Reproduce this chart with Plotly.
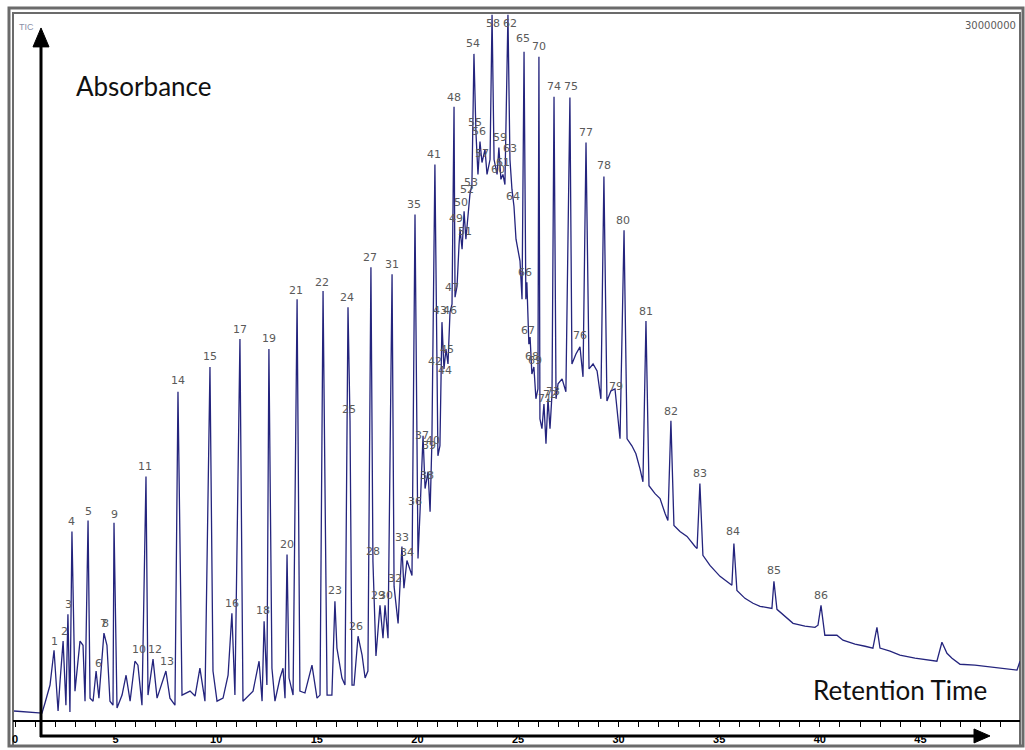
import plotly.graph_objects as go

# ---- TIC trace vertices (time in min, signal in 1e6 counts)
rt_min = [-0.05, 1.34, 1.49, 1.74, 1.94, 2.09, 2.14, 2.24, 2.39, 2.53, 2.63, 2.73, 2.83, 2.98, 3.23, 3.38,
          3.48, 3.63, 3.73, 3.88, 4.03, 4.17, 4.42, 4.57, 4.72, 4.87, 4.92, 5.07, 5.32, 5.52, 5.72, 5.96,
          6.11, 6.31, 6.51, 6.61, 6.86, 7.06, 7.50, 7.70, 7.95, 8.10, 8.30, 8.70, 8.95, 9.19, 9.44, 9.69,
          9.84, 10.04, 10.34, 10.59, 10.78, 10.93, 11.18, 11.33, 11.83, 12.13, 12.28, 12.38, 12.52, 12.62,
          12.77, 12.92, 13.17, 13.32, 13.42, 13.52, 13.62, 13.82, 14.02, 14.16, 14.41, 14.76, 15.01, 15.16,
          15.31, 15.51, 15.75, 15.90, 16.00, 16.25, 16.40, 16.55, 16.65, 16.75, 16.85, 17.05, 17.25, 17.40,
          17.54, 17.69, 17.79, 17.94, 18.14, 18.29, 18.39, 18.54, 18.74, 18.84, 19.04, 19.23, 19.33, 19.48,
          19.73, 19.88, 20.03, 20.13, 20.28, 20.38, 20.53, 20.63, 20.72, 20.87, 21.02, 21.12, 21.22, 21.32,
          21.42, 21.52, 21.62, 21.72, 21.82, 21.87, 21.97, 22.07, 22.12, 22.22, 22.32, 22.41, 22.51, 22.61,
          22.71, 22.81, 22.91, 23.01, 23.11, 23.21, 23.36, 23.46, 23.61, 23.71, 23.81, 23.96, 24.05, 24.15,
          24.25, 24.35, 24.50, 24.60, 24.70, 24.80, 24.90, 25.00, 25.10, 25.20, 25.30, 25.39, 25.44, 25.54,
          25.60, 25.69, 25.79, 25.89, 25.99, 26.04, 26.09, 26.19, 26.29, 26.39, 26.49, 26.59, 26.69, 26.79,
          26.89, 26.99, 27.19, 27.38, 27.58, 27.68, 27.88, 28.08, 28.23, 28.38, 28.53, 28.73, 28.93, 29.12,
          29.27, 29.42, 29.62, 29.82, 29.97, 30.07, 30.27, 30.42, 30.66, 30.86, 31.06, 31.21, 31.36, 31.51,
          31.81, 32.06, 32.31, 32.45, 32.60, 32.75, 33.05, 33.40, 33.80, 33.90, 34.04, 34.19, 34.54, 35.04,
          35.63, 35.73, 35.88, 36.28, 36.68, 37.03, 37.62, 37.72, 37.87, 38.27, 38.67, 39.26, 39.76, 39.91,
          40.06, 40.25, 40.85, 41.15, 41.75, 42.25, 42.64, 42.84, 42.99, 43.49, 43.98, 44.73, 45.48, 45.82,
          46.07, 46.32, 46.57, 46.97, 47.71, 48.61, 49.45, 49.80, 49.95]

tic_mcounts = [0.13, 0.04, 0.47, 1.24, 2.73, 0.98, 0.13, 1.41, 3.12, 0.38, 4.27, 0.09, 7.81, 0.98, 3.12, 2.94,
               0.55, 8.28, 0.68, 0.55, 1.84, 0.68, 3.46, 2.94, 0.55, 0.38, 8.19, 0.26, 0.81, 1.66, 0.55, 2.26,
               2.09, 0.38, 10.16, 0.81, 2.35, 0.68, 1.84, 0.68, 0.38, 13.79, 0.81, 0.98, 0.77, 1.96, 0.55, 14.85,
               1.84, 0.55, 0.68, 1.66, 4.31, 0.81, 16.05, 0.55, 0.98, 2.26, 0.55, 3.97, 1.24, 15.62,
               1.96, 0.55, 1.54, 1.96, 0.68, 6.83, 1.54, 0.81, 17.75, 0.98, 0.90, 2.09, 0.68, 0.81,
               18.10, 0.81, 0.81, 4.82, 2.82, 1.54, 1.24, 17.41, 12.55, 1.24, 1.24, 3.33, 2.52, 1.54,
               1.84, 19.12, 6.53, 2.48, 4.65, 3.24, 4.65, 3.24, 18.82, 5.46, 3.88, 7.17, 5.38, 6.57,
               5.93, 21.38, 6.66, 8.66, 11.91, 9.65, 10.37, 8.66, 11.65, 23.52, 11.05, 11.48, 16.77, 14.77,
               15.62, 14.98, 17.20, 17.54, 25.99, 17.84, 18.31, 20.10, 20.74, 19.89, 21.51, 20.32, 21.38, 22.24,
               22.66, 28.25, 24.88, 23.09, 24.50, 23.60, 24.16, 23.09, 23.73, 29.92, 23.73, 23.09, 24.24, 22.88,
               23.09, 22.66, 29.92, 23.73, 22.45, 21.72, 20.32, 19.89, 19.38, 17.75, 28.34, 17.75, 18.48, 15.83,
               16.13, 14.55, 14.85, 13.49, 13.91, 28.13, 12.63, 12.21, 13.27, 11.57, 13.49, 12.21, 13.70, 26.42,
               13.49, 14.13, 14.34, 13.79, 26.38, 14.98, 15.41, 15.71, 14.43, 24.46, 14.77, 14.98, 14.68, 13.49,
               23.00, 13.40, 13.83, 13.91, 12.63, 11.78, 20.70, 11.78, 11.48, 11.14, 10.50, 9.94, 16.82, 9.77,
               9.43, 9.22, 8.58, 8.28, 12.55, 8.07, 7.81, 7.60, 7.17, 7.08, 9.86, 6.79, 6.36, 5.89,
               5.51, 7.30, 5.29, 4.95, 4.74, 4.61, 4.52, 5.68, 4.48, 4.18, 3.88, 3.76, 3.71, 3.80,
               4.65, 3.37, 3.37, 3.16, 2.99, 2.90, 2.82, 3.71, 2.82, 2.69, 2.52, 2.39, 2.30, 2.26,
               3.07, 2.60, 2.39, 2.13, 2.09, 2.01, 1.92, 1.88, 2.26]

# ---- peak number labels (position of label text)
peak_ids = ["1", "2", "3", "4", "5", "6", "7", "8", "9", "10", "11", "12", "13", "14", "15", "16", "17",
            "18", "19", "20", "21", "22", "23", "24", "25", "26", "27", "28", "29", "30", "31", "32", "33",
            "34", "35", "36", "37", "38", "39", "40", "41", "42", "43", "44", "45", "46", "47", "48", "49",
            "50", "51", "52", "53", "54", "55", "56", "57", "58", "59", "60", "61", "62", "63", "64", "65",
            "66", "67", "68", "69", "70", "71", "72", "73", "74", "75", "76", "77", "78", "79", "80", "81",
            "82", "83", "84", "85", "86"]
label_rt = [1.94, 2.44, 2.68, 2.83, 3.63, 4.13, 4.42, 4.52, 4.92, 6.16, 6.46, 6.96, 7.55, 8.10, 9.69, 10.78,
            11.18, 12.33, 12.62, 13.52, 13.97, 15.26, 15.90, 16.50, 16.60, 16.95, 17.64, 17.79, 18.04, 18.44,
            18.74, 18.89, 19.23, 19.48, 19.83, 19.88, 20.23, 20.48, 20.58, 20.77, 20.82, 20.87, 21.12, 21.37,
            21.47, 21.62, 21.72, 21.82, 21.92, 22.17, 22.37, 22.46, 22.66, 22.76, 22.86, 23.06, 23.21, 23.76,
            24.10, 24.00, 24.25, 24.60, 24.60, 24.75, 25.25, 25.35, 25.50, 25.69, 25.84, 26.04, 26.34, 26.59,
            26.74, 26.79, 27.63, 28.08, 28.38, 29.27, 29.87, 30.22, 31.36, 32.60, 34.04, 35.68, 37.72, 40.06]
label_mcounts = [3.12, 3.54, 4.69, 8.24, 8.66, 2.18, 3.88, 3.88, 8.54, 2.77, 10.58, 2.77, 2.26, 14.26, 15.28,
                 4.74, 16.47, 4.44, 16.05, 7.26, 18.14, 18.48, 5.29, 17.84, 13.02, 3.76, 19.55, 6.96, 5.08,
                 5.08, 19.25, 5.80, 7.55, 6.91, 21.81, 9.09, 11.91, 10.20, 11.48, 11.69, 23.94, 15.07, 17.29,
                 14.68, 15.58, 17.29, 18.27, 26.38, 21.21, 21.89, 20.66, 22.45, 22.75, 28.68, 25.31, 24.93,
                 23.99, 29.53, 24.67, 23.30, 23.60, 29.53, 24.20, 22.15, 28.89, 18.91, 16.43, 15.28, 15.11,
                 28.55, 13.49, 13.66, 13.79, 26.85, 26.85, 16.18, 24.88, 23.47, 14.00, 21.13, 17.24, 12.93,
                 10.29, 7.81, 6.15, 5.08]

x_ticks = [0, 5, 10, 15, 20, 25, 30, 35, 40, 45]
full_scale_text = "30000000"

# ---- layout geometry (pixels of the 1025x750 page)
W, H = 1025, 750
PL, PT, PR, PB = 13, 13, 1020, 722


def px(x):
    return (x - PL) / (PR - PL)


def py(y):
    return (PB - y) / (PB - PT)


fig = go.Figure()
fig.add_trace(go.Scatter(x=rt_min, y=tic_mcounts, mode="lines",
                         line=dict(color="rgb(36,36,125)", width=1.3),
                         hoverinfo="skip", showlegend=False))

annotations = []
for lab, t, v in zip(peak_ids, label_rt, label_mcounts):
    annotations.append(dict(x=t, y=v, xref="x", yref="y", text=lab, showarrow=False,
                            xanchor="center", yanchor="middle",
                            font=dict(family="DejaVu Sans", size=11, color="#5a5a5a")))

annotations += [
    dict(x=px(17), y=py(27), xref="paper", yref="paper", text="TIC", showarrow=False,
         xanchor="left", yanchor="middle", font=dict(family="Liberation Sans", size=9, color="#8a8fa8")),
    dict(x=px(1018), y=py(26), xref="paper", yref="paper", text=full_scale_text, showarrow=False,
         xanchor="right", yanchor="middle", font=dict(family="DejaVu Sans", size=10, color="#5a5a5a")),
    dict(x=px(74), y=py(86), xref="paper", yref="paper", text="Absorbance", showarrow=False,
         xanchor="left", yanchor="middle", font=dict(family="Lato", size=26, color="#111111")),
    dict(x=px(989), y=py(692), xref="paper", yref="paper", text="Retention Time", showarrow=False,
         xanchor="right", yanchor="middle", font=dict(family="Lato", size=26, color="#111111")),
]

shapes = [
    # outer double frame
    dict(type="rect", xref="paper", yref="paper", x0=px(9), x1=px(1023), y0=py(748), y1=py(8),
         line=dict(color="#6b6b6b", width=3), layer="below"),
    dict(type="rect", xref="paper", yref="paper", x0=px(13), x1=px(1020), y0=py(748), y1=py(13),
         line=dict(color="#6b6b6b", width=2), layer="below"),
    # black axis arrows
    dict(type="line", xref="paper", yref="paper", x0=px(41), x1=px(41), y0=py(739), y1=py(45),
         line=dict(color="black", width=3), layer="above"),
    dict(type="path", xref="paper", yref="paper",
         path=f"M {px(33)},{py(47)} L {px(41)},{py(28)} L {px(49)},{py(47)} Z",
         fillcolor="black", line=dict(color="black", width=1), layer="above"),
    dict(type="line", xref="paper", yref="paper", x0=px(40), x1=px(976), y0=py(738), y1=py(738),
         line=dict(color="black", width=3), layer="above"),
    dict(type="path", xref="paper", yref="paper",
         path=f"M {px(974)},{py(731)} L {px(990)},{py(738)} L {px(974)},{py(745)} Z",
         fillcolor="black", line=dict(color="black", width=1), layer="above"),
]

fig.update_layout(
    width=W, height=H,
    margin=dict(l=PL, r=W - PR, t=PT, b=H - PB, pad=0),
    paper_bgcolor="white", plot_bgcolor="white",
    showlegend=False,
    annotations=annotations,
    shapes=shapes,
    xaxis=dict(range=[-0.10, 49.95], tickvals=x_ticks, ticktext=[str(v) for v in x_ticks],
               ticks="outside", ticklen=5, tickwidth=1, tickcolor="black",
               minor=dict(dtick=1, tick0=0, ticks="outside", ticklen=5, tickwidth=1, tickcolor="black"),
               showline=True, linecolor="black", linewidth=1.5, showgrid=False, zeroline=False,
               tickfont=dict(family="Liberation Sans", size=11, color="black", weight="bold"),
               ticklabelstandoff=3),
    yaxis=dict(range=[-0.256, 30.0], showticklabels=False, ticks="", showgrid=False,
               zeroline=False, showline=False),
)

fig.write_html("out.html", config={"displayModeBar": False},
               post_script="document.body.style.margin='0';document.body.style.overflow='hidden';")
